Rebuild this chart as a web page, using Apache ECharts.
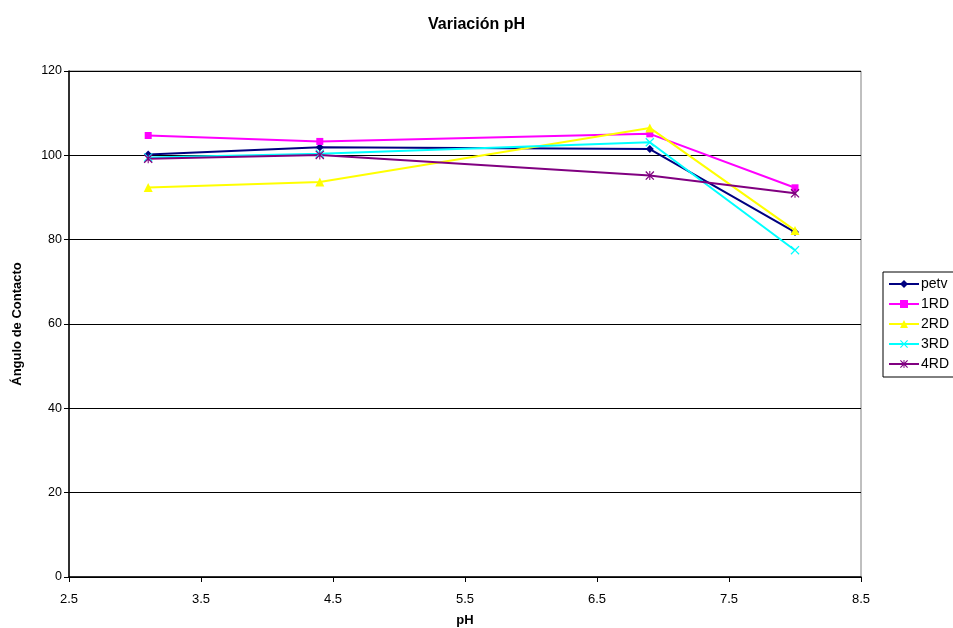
<!DOCTYPE html>
<html>
<head>
<meta charset="utf-8">
<script src="https://cdn.jsdelivr.net/npm/echarts@6/dist/echarts.min.js"></script>
<style>
  html, body { margin: 0; padding: 0; background: #fff; }
  #chart { width: 953px; height: 628px; }
</style>
</head>
<body>
<div id="chart"></div>
<script>
// pH values at which the contact angle was measured
const phValues = [3.1, 4.4, 6.9, 8.0];

// Contact angle (degrees) for each sample
const petv = [100.2, 101.9, 101.5, 81.8];
const rd1  = [104.7, 103.3, 105.1, 92.3];
const rd2  = [92.4, 93.7, 106.5, 82.2];
const rd3  = [99.5, 100.4, 103.1, 77.5];
const rd4  = [99.2, 100.1, 95.2, 91.0];

// Tick positions on the pH axis
const phTicks = [2.5, 3.5, 4.5, 5.5, 6.5, 7.5, 8.5];

const FONT = '"Liberation Sans", Arial, sans-serif';

// Marker shapes drawn as filled outlines
const crossPath = 'path://M0,1 L1,0 L5,4 L9,0 L10,1 L6,5 L10,9 L9,10 L5,6 L1,10 L0,9 L4,5 Z';
const starPath = 'path://M0,1 L1,0 L4.4,3.4 L4.4,0 L5.6,0 L5.6,3.4 L9,0 L10,1 L6.4,4.6 L6.4,5.4 L10,9 L9,10 L5.6,6.6 L5.6,10 L4.4,10 L4.4,6.6 L1,10 L0,9 L3.6,5.4 L3.6,4.6 Z';

function pairs(ys) {
  return phValues.map((x, i) => [x, ys[i]]);
}

function makeSeries(name, ys, color, symbol, size) {
  return {
    name: name,
    type: 'line',
    data: pairs(ys),
    symbol: symbol,
    symbolSize: size,
    showAllSymbol: true,
    lineStyle: { color: color, width: 2 },
    itemStyle: { color: color, borderWidth: 0 },
    emphasis: { disabled: true },
    animation: false
  };
}

const chart = echarts.init(document.getElementById('chart'), null, { renderer: 'canvas' });

chart.setOption({
  animation: false,
  backgroundColor: '#ffffff',
  title: {
    text: 'Variación pH',
    left: 'center',
    top: 12,
    textStyle: { fontFamily: FONT, fontSize: 16, fontWeight: 'bold', color: '#000' }
  },
  grid: {
    left: 69,
    right: 92,
    top: 71,
    bottom: 51,
    outerBoundsMode: 'none',
    containLabel: false,
    show: true,
    borderColor: '#808080',
    borderWidth: 1,
    backgroundColor: '#ffffff'
  },
  legend: {
    orient: 'vertical',
    left: 883,
    top: 272,
    padding: [5, 30, 6, 5],
    itemWidth: 30,
    itemHeight: 10,
    itemGap: 6,
    borderColor: '#000',
    borderWidth: 1,
    backgroundColor: '#fff',
    textStyle: { fontFamily: FONT, fontSize: 14, color: '#000', padding: [0, 0, 0, -3] },
    data: ['petv', '1RD', '2RD', '3RD', '4RD']
  },
  xAxis: {
    type: 'value',
    min: 2.5,
    max: 8.5,
    name: 'pH',
    nameLocation: 'middle',
    nameGap: 37,
    nameTextStyle: { fontFamily: FONT, fontSize: 13, fontWeight: 'bold', color: '#000' },
    axisLine: { onZero: false, lineStyle: { color: '#000', width: 1.5 } },
    axisTick: { show: true, length: 5, lineStyle: { color: '#000' }, customValues: phTicks },
    axisLabel: {
      customValues: phTicks,
      margin: 16,
      fontFamily: FONT, fontSize: 13, color: '#000',
      formatter: v => v.toFixed(1)
    },
    splitLine: { show: false }
  },
  yAxis: {
    type: 'value',
    min: 0,
    max: 120,
    interval: 20,
    name: 'Ángulo de Contacto',
    nameLocation: 'middle',
    nameGap: 45,
    nameTextStyle: { fontFamily: FONT, fontSize: 13, fontWeight: 'bold', color: '#000' },
    axisLine: { show: true, lineStyle: { color: '#000', width: 1.5 } },
    axisTick: { show: true, length: 5, lineStyle: { color: '#000' } },
    axisLabel: { margin: 7, fontFamily: FONT, fontSize: 12.5, color: '#000' },
    splitLine: { show: true, lineStyle: { color: '#000', width: 1 } }
  },
  series: [
    makeSeries('petv', petv, '#000080', 'diamond', 8),
    makeSeries('1RD', rd1, '#FF00FF', 'rect', 7),
    makeSeries('2RD', rd2, '#FFFF00', 'triangle', 9),
    makeSeries('3RD', rd3, '#00FFFF', crossPath, 9),
    makeSeries('4RD', rd4, '#800080', starPath, 9)
  ]
});
</script>
</body>
</html>
